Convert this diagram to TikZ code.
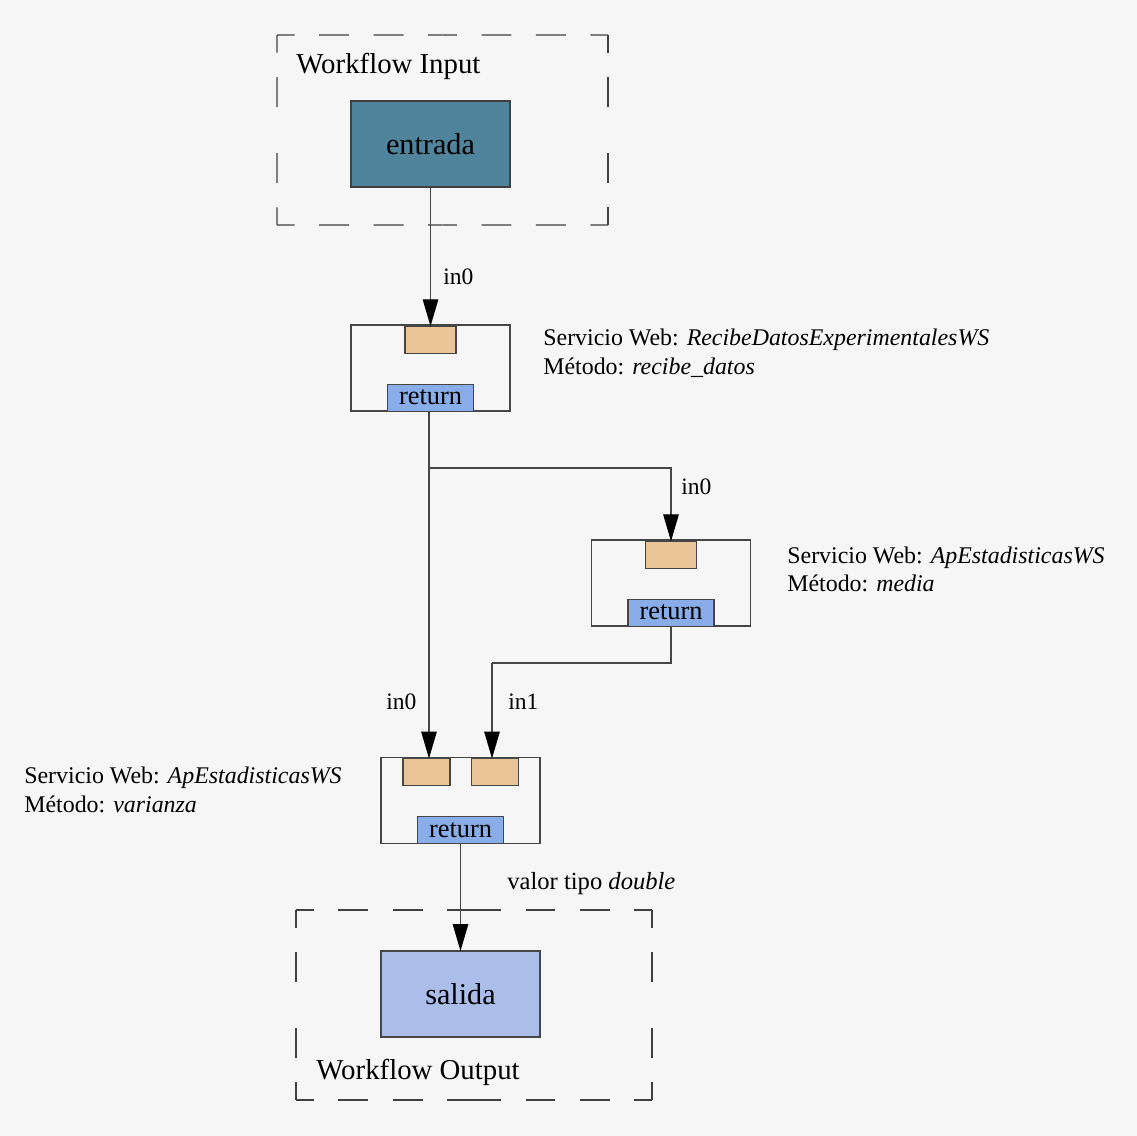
\documentclass[tikz,border=0pt]{standalone}
\usepackage{fontspec}
\setmainfont{Liberation Serif}
\usetikzlibrary{arrows.meta,calc}

\definecolor{paper}{RGB}{246,246,246}
\definecolor{inputfill}{RGB}{80,132,157}
\definecolor{outputfill}{RGB}{170,190,233}
\definecolor{portfill}{RGB}{234,197,152}
\definecolor{retfill}{RGB}{136,173,232}
\definecolor{edge}{RGB}{70,70,70}

\tikzset{
  box/.style={draw=edge, line width=0.6pt, inner sep=0pt, outer sep=0pt,
              minimum width=3.18cm, minimum height=1.72cm},
  svcbox/.style={box},
  inport/.style={draw=edge, line width=0.6pt, fill=portfill, inner sep=0pt, outer sep=0pt,
                 minimum width=1.02cm, minimum height=0.54cm},
  retport/.style={draw=edge, line width=0.6pt, fill=retfill, inner sep=0pt, outer sep=0pt,
                  minimum width=1.72cm, minimum height=0.54cm,
                  font=\fontsize{15}{16}\selectfont},
  flow/.style={draw=edge, line width=0.7pt,
               -{Triangle[length=5.4mm,width=3.1mm,color=black]}},
  plain/.style={draw=edge, line width=0.7pt},
  wfdash/.style={draw=black!75, line width=0.6pt, dash pattern=on 17pt off 14pt, dash phase=7pt},
  lbl/.style={inner sep=0pt, anchor=base west, font=\fontsize{13.6}{15}\selectfont},
  title/.style={inner sep=0pt, anchor=base west, font=\fontsize{16.4}{18}\selectfont},
  portlbl/.style={inner sep=0pt, anchor=base west, font=\fontsize{13.4}{15}\selectfont},
  boxtext/.style={font=\fontsize{17.2}{18}\selectfont},
}

% dashed frame whose four corners are drawn as solid L shapes
\newcommand\frameside[2]{%
  \draw[wfdash] #1 -- ($#1!0.5!#2$);
  \draw[wfdash] #2 -- ($#1!0.5!#2$);}

\begin{document}
\begin{tikzpicture}[x=0.02cm, y=-0.02cm]
  \fill[paper] (0,0) rectangle (1137,1136);
  \useasboundingbox (0,0) rectangle (1137,1136);

  % workflow input frame
  \frameside{(277,35)}{(608,35)}
  \frameside{(608,35)}{(608,225)}
  \frameside{(608,225)}{(277,225)}
  \frameside{(277,225)}{(277,35)}
  \node[title] (intitle) at (296,73) {Workflow Input};
  \node[box, boxtext, draw=black!75, fill=inputfill] (entrada) at (430.5,144) {entrada};

  % service 1: recibe_datos
  \node[svcbox] (s1) at (430.5,368) {};
  \node[inport] (p1) at (430.5,339.8) {};
  \node[retport] (r1) at (430.5,397.7) {return};
  \node[lbl] (s1a) at (543,345) {Servicio Web: \textit{RecibeDatosExperimentalesWS}};
  \node[lbl] (s1b) at (543,374) {Método: \textit{recibe\_datos}};

  % service 2: media
  \node[svcbox] (s2) at (671,583) {};
  \node[inport] (p2) at (671,554.8) {};
  \node[retport] (r2) at (671,612.7) {return};
  \node[lbl] (s2a) at (787,563) {Servicio Web: \textit{ApEstadisticasWS}};
  \node[lbl] (s2b) at (787,591) {Método: \textit{media}};

  % service 3: varianza
  \node[svcbox] (s3) at (460.5,800.5) {};
  \node[inport, minimum width=0.94cm] (p3a) at (426.5,772) {};
  \node[inport, minimum width=0.94cm] (p3b) at (495,772) {};
  \node[retport] (r3) at (460.5,830) {return};
  \node[lbl] (s3a) at (24,783) {Servicio Web: \textit{ApEstadisticasWS}};
  \node[lbl] (s3b) at (24,812) {Método: \textit{varianza}};

  % workflow output frame
  \frameside{(296,910)}{(652,910)}
  \frameside{(652,910)}{(652,1100)}
  \frameside{(652,1100)}{(296,1100)}
  \frameside{(296,1100)}{(296,910)}
  \node[box, boxtext, fill=outputfill] (salida) at (460.5,994) {salida};
  \node[title] (outtitle) at (316,1079) {Workflow Output};

  % connectors
  \coordinate (split) at (429,468);
  \coordinate (bend) at (492,663);
  \draw[flow] (entrada.south) -- (p1.north);
  \draw[plain] (r1.south -| split) -- (split);
  \draw[flow] (split) -- (split |- p3a.north);
  \draw[flow] (split) -| (p2.north);
  \draw[plain] (r2.south) |- (bend);
  \draw[flow] (bend) -- (bend |- p3b.north);
  \draw[flow] (r3.south) -- (salida.north);

  % port labels
  \node[portlbl] (l1) at (443,284) {in0};
  \node[portlbl] (l2) at (681,494) {in0};
  \node[portlbl] (l3) at (386,709) {in0};
  \node[portlbl] (l4) at (508,709) {in1};
  \node[lbl, font=\fontsize{14}{15}\selectfont] (l5) at (507,889) {valor tipo \textit{double}};
\end{tikzpicture}
\end{document}
